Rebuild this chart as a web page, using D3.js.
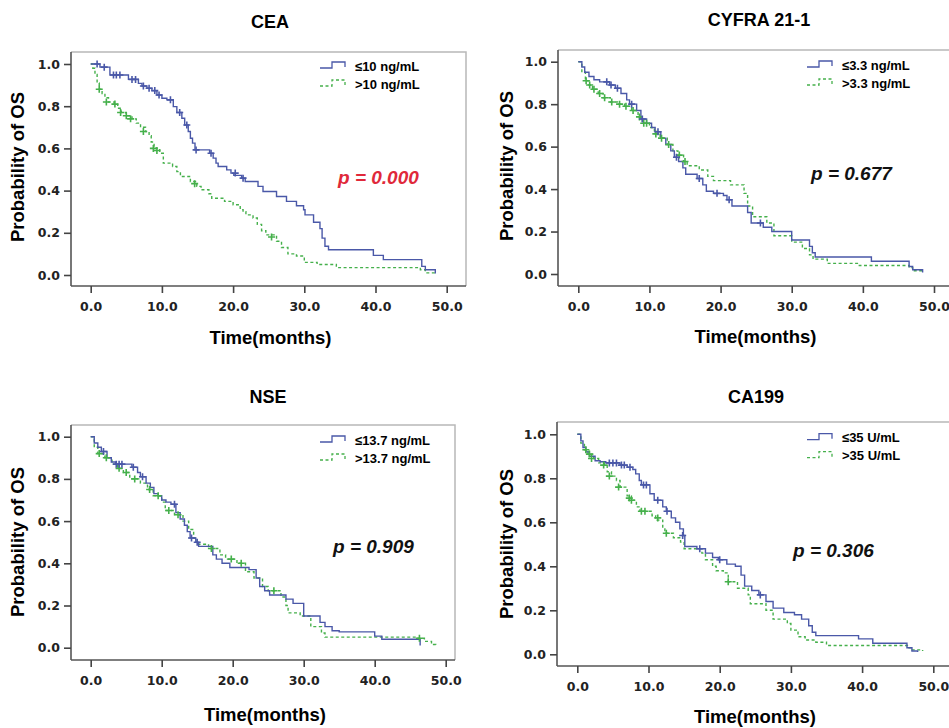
<!DOCTYPE html>
<html>
<head>
<meta charset="utf-8">
<script src="https://cdn.jsdelivr.net/npm/d3@7"></script>
<style>
  body { margin: 0; background: #fff; }
  svg { display: block; }
  .tick text { font-family: "DejaVu Sans", sans-serif; font-weight: bold; font-size: 12.5px; fill: #222; }
  .title { font-family: "Liberation Sans", Arial, sans-serif; font-weight: bold; font-size: 18px; }
  .axis-title { font-family: "Liberation Sans", Arial, sans-serif; font-weight: bold; font-size: 18.5px; }
  .legend-text { font-family: "Liberation Sans", Arial, sans-serif; font-weight: bold; font-size: 13px; }
  .pval { font-family: "Liberation Sans", Arial, sans-serif; font-weight: bold; font-style: italic; font-size: 19px; }
</style>
</head>
<body>
<svg id="chart"></svg>
<script>
// step data: [time (months), survival after the step]
const ceaLow = [[0,1],[1.3,0.985],[2.7,0.948],[5.3,0.927],[6.7,0.908],[7.2,0.896],[7.9,0.885],[8.6,0.874],[9.3,0.853],
  [10,0.838],[10.7,0.83],[11.6,0.798],[12.1,0.77],[12.8,0.743],[13.2,0.711],[13.7,0.68],[14,0.648],[14.3,0.625],[14.65,0.593],
  [16.7,0.577],[17.2,0.554],[17.6,0.53],[17.9,0.514],[19.1,0.498],[19.7,0.483],[20.1,0.472],[21.2,0.459],[21.7,0.443],
  [23.5,0.42],[24.2,0.396],[26.1,0.372],[27.5,0.349],[28.9,0.328],[29.9,0.309],[30.1,0.285],[31.3,0.25],[32.2,0.22],
  [32.5,0.175],[32.9,0.136],[33.4,0.12],[39.7,0.093],[41.1,0.073],[46.5,0.041],[47,0.025],[48.4,0.01],[48.5,0.01]];
const ceaLowCens = [[0.9,1],[1.9,0.985],[3.2,0.948],[3.6,0.948],[4.1,0.948],[5.8,0.927],[6.3,0.927],[7.4,0.896],[8.2,0.885],
  [9.0,0.874],[9.6,0.853],[11.2,0.83],[12.5,0.77],[13.5,0.711],[14.8,0.593],[16.9,0.577],[20.3,0.483],[21.4,0.459]];
const ceaHigh = [[0,1],[0.3,0.98],[0.6,0.95],[0.9,0.91],[1.2,0.88],[1.6,0.86],[2.0,0.84],[2.5,0.82],[3.3,0.81],[3.8,0.79],
  [4.3,0.77],[5.0,0.755],[5.8,0.74],[6.4,0.72],[7.0,0.70],[7.7,0.68],[8.2,0.66],[8.5,0.63],[8.9,0.60],[9.7,0.577],
  [10.2,0.53],[11.5,0.514],[12.1,0.49],[12.6,0.467],[14.0,0.443],[14.9,0.42],[15.5,0.404],[16.6,0.385],[17.0,0.364],
  [18.8,0.349],[20.0,0.333],[21.0,0.31],[21.4,0.30],[21.8,0.285],[22.8,0.27],[23.4,0.24],[24.0,0.21],[24.6,0.19],
  [26.1,0.16],[26.8,0.13],[27.7,0.10],[28.9,0.09],[30.0,0.06],[31.8,0.05],[34.5,0.035],[46.3,0.025],[47.0,0.01],[48.4,0.005],[48.5,0.005]];
const ceaHighCens = [[1.2,0.88],[2.2,0.82],[3.4,0.81],[4.2,0.77],[5.0,0.755],[5.6,0.74],[7.4,0.68],[8.8,0.60],[9.3,0.59],
  [14.6,0.433],[25.4,0.18]];

const cyfLow = [[0,1],[0.5,0.975],[0.9,0.95],[1.5,0.93],[2.2,0.915],[3.0,0.905],[4.4,0.89],[5.2,0.875],[6.0,0.85],[6.8,0.82],
  [7.2,0.80],[8.2,0.77],[8.8,0.73],[9.6,0.71],[10.3,0.69],[10.8,0.67],[11.6,0.64],[12.3,0.61],[13.0,0.58],[13.5,0.55],
  [14.1,0.53],[14.7,0.50],[15.1,0.47],[16.7,0.45],[17.5,0.42],[18.0,0.39],[19.0,0.38],[20.4,0.37],[20.9,0.35],[21.6,0.32],
  [23.8,0.29],[24.3,0.24],[26.0,0.22],[27.2,0.20],[30.0,0.16],[32.5,0.13],[32.9,0.10],[33.3,0.08],[41.2,0.06],[46.5,0.035],
  [47.0,0.02],[48.4,0.01],[48.5,0.01]];
const cyfLowCens = [[4.0,0.905],[4.6,0.89],[5.5,0.875],[7.5,0.80],[9.0,0.73],[11.2,0.67],[13.8,0.55],[17.0,0.45],[19.5,0.38],
  [21.2,0.35],[25.6,0.24]];
const cyfHigh = [[0,1],[0.5,0.95],[1.0,0.91],[1.5,0.89],[2.0,0.87],[2.8,0.85],[3.5,0.83],[4.5,0.81],[5.5,0.80],[6.5,0.79],
  [7.5,0.77],[8.4,0.74],[9.0,0.71],[10.0,0.69],[10.7,0.66],[11.5,0.64],[12.5,0.61],[13.3,0.58],[14.0,0.56],[14.8,0.53],
  [15.3,0.51],[17.0,0.49],[18.2,0.46],[19.0,0.44],[21.4,0.42],[23.3,0.38],[23.8,0.32],[24.5,0.27],[26.5,0.24],[27.5,0.18],
  [30.0,0.15],[31.5,0.12],[32.5,0.09],[33.0,0.07],[35.0,0.05],[39.5,0.04],[46.5,0.03],[47.0,0.015],[48.5,0.01]];
const cyfHighCens = [[1.1,0.91],[1.6,0.89],[2.2,0.87],[3.0,0.85],[3.7,0.83],[4.7,0.81],[5.8,0.80],[6.7,0.79],[7.7,0.77],
  [8.6,0.74],[9.2,0.71],[9.6,0.71],[10.9,0.66],[11.7,0.64],[12.7,0.61],[14.2,0.56],[15.0,0.53]];

const nseLow = [[0,1],[0.5,0.97],[1.0,0.95],[1.5,0.93],[2.3,0.90],[2.9,0.88],[3.5,0.87],[5.8,0.855],[6.6,0.83],[7.0,0.81],
  [7.8,0.78],[8.4,0.76],[8.9,0.73],[9.5,0.72],[10.0,0.70],[10.6,0.69],[11.3,0.68],[12.0,0.64],[12.6,0.61],[13.2,0.58],
  [13.6,0.55],[14.0,0.52],[14.8,0.50],[15.2,0.48],[17.2,0.44],[17.7,0.42],[18.5,0.40],[19.6,0.38],[22.3,0.37],[23.3,0.33],
  [23.8,0.29],[24.5,0.27],[25.2,0.25],[27.5,0.23],[28.5,0.21],[30.0,0.15],[32.3,0.12],[33.0,0.10],[34.0,0.08],[35.0,0.075],
  [40.0,0.055],[41.0,0.04],[46.4,0.01]];
const nseLowCens = [[1.8,0.93],[3.6,0.87],[4.0,0.87],[4.4,0.87],[6.0,0.855],[7.3,0.81],[11.8,0.68],[14.2,0.52],[15.0,0.50]];
const nseHigh = [[0,1],[0.5,0.95],[1.0,0.92],[2.0,0.90],[3.0,0.87],[3.8,0.85],[4.6,0.83],[5.5,0.80],[7.0,0.78],[8.0,0.75],
  [8.8,0.72],[10.0,0.69],[10.5,0.65],[11.8,0.63],[13.0,0.60],[13.8,0.56],[14.5,0.52],[15.0,0.49],[16.6,0.47],[18.2,0.44],
  [19.0,0.42],[20.6,0.40],[21.8,0.36],[23.0,0.33],[24.2,0.29],[25.0,0.27],[26.8,0.24],[27.5,0.20],[27.8,0.165],[29.5,0.15],
  [31.0,0.10],[32.5,0.07],[33.0,0.05],[46.0,0.045],[47.0,0.03],[48.0,0.015],[48.6,0.005]];
const nseHighCens = [[1.2,0.92],[2.2,0.90],[4.0,0.85],[5.0,0.83],[6.2,0.80],[8.3,0.75],[9.5,0.72],[11.0,0.65],[12.3,0.63],
  [17.0,0.47],[19.8,0.42],[21.2,0.40],[25.8,0.27],[46.3,0.045]];

const caLow = [[0,1],[0.5,0.97],[0.8,0.94],[1.2,0.92],[1.7,0.90],[2.5,0.88],[3.2,0.875],[4.0,0.87],[6.0,0.86],[7.0,0.85],
  [7.8,0.84],[8.2,0.82],[8.7,0.79],[9.0,0.77],[10.2,0.73],[10.8,0.70],[12.0,0.67],[12.5,0.65],[13.2,0.62],[13.8,0.60],
  [14.4,0.57],[14.9,0.54],[15.1,0.49],[16.8,0.48],[18.0,0.46],[19.0,0.44],[19.8,0.43],[21.0,0.41],[22.2,0.40],[23.0,0.36],
  [23.5,0.31],[24.5,0.29],[25.5,0.27],[26.5,0.24],[27.5,0.21],[29.0,0.19],[30.5,0.18],[31.5,0.16],[32.5,0.13],[33.0,0.10],
  [33.5,0.085],[39.5,0.07],[41.5,0.05],[46.3,0.03],[47.0,0.015],[47.8,0.01]];
const caLowCens = [[4.5,0.87],[5.0,0.87],[5.5,0.87],[6.2,0.86],[6.6,0.86],[7.4,0.85],[9.3,0.77],[9.7,0.77],[11.3,0.70],
  [12.6,0.65],[14.8,0.54],[17.2,0.48],[20.0,0.43],[25.7,0.27]];
const caHigh = [[0,1],[0.5,0.96],[1.0,0.93],[1.5,0.91],[2.3,0.89],[3.0,0.87],[3.8,0.86],[4.2,0.83],[4.8,0.81],[5.5,0.79],
  [6.0,0.76],[7.0,0.72],[7.6,0.70],[8.3,0.67],[8.8,0.65],[10.5,0.63],[11.0,0.61],[12.0,0.57],[12.3,0.55],[13.5,0.53],
  [14.5,0.51],[15.0,0.48],[17.5,0.46],[18.0,0.43],[19.0,0.40],[19.5,0.38],[20.5,0.37],[21.2,0.33],[22.5,0.30],[24.0,0.27],
  [24.3,0.23],[26.5,0.20],[27.5,0.16],[29.5,0.14],[30.0,0.11],[31.0,0.08],[32.0,0.065],[33.5,0.055],[35.0,0.04],[46.5,0.03],
  [47.0,0.02],[48.5,0.015]];
const caHighCens = [[1.2,0.93],[1.7,0.91],[2.0,0.89],[3.7,0.86],[4.5,0.81],[5.8,0.76],[7.3,0.71],[7.6,0.70],[9.0,0.65],
  [9.5,0.65],[11.3,0.62],[12.5,0.55],[21.2,0.33]];

const titles = ["CEA", "CYFRA 21-1", "NSE", "CA199"];
const lowLabels = ["≤10 ng/mL", "≤3.3 ng/mL", "≤13.7 ng/mL", "≤35 U/mL"];
const highLabels = [">10 ng/mL", ">3.3 ng/mL", ">13.7 ng/mL", ">35 U/mL"];
const pValues = ["0.000", "0.677", "0.909", "0.306"];
const xTicks = [0, 10, 20, 30, 40, 50];
const yTicks = [0, 0.2, 0.4, 0.6, 0.8, 1.0];

const blue = "#4a58a8";
const green = "#45b04b";

const width = 949;
const height = 728;

const svg = d3.select('#chart')
  .attr('width', width)
  .attr('height', height);

// panel layout (pixel frame of each plot)
const panels = [
  { x0: 90.7, x1: 446.7, y1: 64, y0: 275, frame: [71, 52, 466, 286], titleX: 270, titleY: 28,
    xTitleY: 344, yTitleX: 24, yTitleY: 167, legX: 320, legY: 66, pX: 338, pY: 184, pColor: "#e0283a",
    low: ceaLow, lowCens: ceaLowCens, high: ceaHigh, highCens: ceaHighCens },
  { x0: 578.3, x1: 934, y1: 61.7, y0: 274, frame: [558, 50, 960, 286], titleX: 759, titleY: 26,
    xTitleY: 343, yTitleX: 513, yTitleY: 166, legX: 807, legY: 65, pX: 811, pY: 180, pColor: "#111",
    low: cyfLow, lowCens: cyfLowCens, high: cyfHigh, highCens: cyfHighCens },
  { x0: 90.7, x1: 445.7, y1: 436.7, y0: 647.7, frame: [71, 425, 455, 660], titleX: 268, titleY: 403,
    xTitleY: 721, yTitleX: 24, yTitleY: 542, legX: 320, legY: 440, pX: 333, pY: 553, pColor: "#111",
    low: nseLow, lowCens: nseLowCens, high: nseHigh, highCens: nseHighCens },
  { x0: 577.3, x1: 933.3, y1: 434.3, y0: 654.3, frame: [557, 422, 960, 666], titleX: 756, titleY: 403,
    xTitleY: 723, yTitleX: 513, yTitleY: 544, legX: 807, legY: 437.7, pX: 793, pY: 557, pColor: "#111",
    low: caLow, lowCens: caLowCens, high: caHigh, highCens: caHighCens }
];

const crossPath = "M-3.5,0H3.5M0,-3.5V3.5";

panels.forEach((p, i) => {
  const g = svg.append('g');

  const xScale = d3.scaleLinear().domain([0, 50]).range([p.x0, p.x1]);
  const yScale = d3.scaleLinear().domain([0, 1]).range([p.y0, p.y1]);

  const [fx0, fy0, fx1, fy1] = p.frame;

  // frame: top/right light grey
  g.append('path')
    .attr('d', `M${fx0},${fy0}H${fx1}V${fy1}`)
    .attr('fill', 'none')
    .attr('stroke', '#b8b8b8')
    .attr('stroke-width', 1.5);

  // axes
  const xAxis = d3.axisBottom(xScale).tickValues(xTicks).tickFormat(d3.format('.1f')).tickSize(7).tickSizeOuter(0);
  const yAxis = d3.axisLeft(yScale).tickValues(yTicks).tickFormat(d3.format('.1f')).tickSize(7).tickSizeOuter(0);

  const gx = g.append('g')
    .attr('transform', `translate(0, ${fy1})`)
    .call(xAxis);
  gx.select('.domain').attr('d', `M${fx0},0H${fx1}`);

  const gy = g.append('g')
    .attr('transform', `translate(${fx0}, 0)`)
    .call(yAxis);
  gy.select('.domain').attr('d', `M0,${fy0}V${fy1}`);

  g.selectAll('.domain').attr('stroke', '#555').attr('stroke-width', 1.6);
  g.selectAll('.tick line').attr('stroke', '#444').attr('stroke-width', 1.6);
  gx.selectAll('.tick text').attr('dy', '1.2em');
  gy.selectAll('.tick text').attr('dx', '-1px');

  // curves
  const line = d3.line()
    .x((d) => xScale(d[0]))
    .y((d) => yScale(d[1]))
    .curve(d3.curveStepAfter);

  g.append('path')
    .datum(p.high)
    .attr('d', line)
    .attr('fill', 'none')
    .attr('stroke', green)
    .attr('stroke-width', 1.4)
    .attr('stroke-dasharray', '3,2.5');

  g.append('path')
    .datum(p.low)
    .attr('d', line)
    .attr('fill', 'none')
    .attr('stroke', blue)
    .attr('stroke-width', 1.4);

  // censored marks
  g.selectAll('.cens-high')
    .data(p.highCens)
    .enter()
    .append('path')
    .attr('d', crossPath)
    .attr('transform', (d) => `translate(${xScale(d[0])}, ${yScale(d[1])})`)
    .attr('stroke', green)
    .attr('stroke-width', 1.6);

  g.selectAll('.cens-low')
    .data(p.lowCens)
    .enter()
    .append('path')
    .attr('d', crossPath)
    .attr('transform', (d) => `translate(${xScale(d[0])}, ${yScale(d[1])})`)
    .attr('stroke', blue)
    .attr('stroke-width', 1.6);

  // titles
  g.append('text')
    .attr('class', 'title')
    .attr('text-anchor', 'middle')
    .attr('x', p.titleX)
    .attr('y', p.titleY)
    .text(titles[i]);

  g.append('text')
    .attr('class', 'axis-title')
    .attr('text-anchor', 'middle')
    .attr('x', (fx0 + Math.min(fx1, width)) / 2 + 2)
    .attr('y', p.xTitleY)
    .text('Time(months)');

  g.append('text')
    .attr('class', 'axis-title')
    .attr('text-anchor', 'middle')
    .attr('transform', `translate(${p.yTitleX}, ${p.yTitleY}) rotate(-90)`)
    .text('Probability of OS');

  // legend
  const leg = g.append('g').attr('transform', `translate(${p.legX}, ${p.legY})`);
  leg.append('path')
    .attr('d', 'M0,2H12V-4H25V1')
    .attr('fill', 'none')
    .attr('stroke', blue)
    .attr('stroke-width', 1.3);
  leg.append('path')
    .attr('d', 'M0,20H12V14H25V19')
    .attr('fill', 'none')
    .attr('stroke', green)
    .attr('stroke-width', 1.3)
    .attr('stroke-dasharray', '3,2.5');
  leg.append('text')
    .attr('class', 'legend-text')
    .attr('x', 35)
    .attr('y', 4.5)
    .text(lowLabels[i]);
  leg.append('text')
    .attr('class', 'legend-text')
    .attr('x', 35)
    .attr('y', 22.5)
    .text(highLabels[i]);

  // p value
  g.append('text')
    .attr('class', 'pval')
    .attr('x', p.pX)
    .attr('y', p.pY)
    .attr('fill', p.pColor)
    .text(`p = ${pValues[i]}`);
});
</script>
</body>
</html>
